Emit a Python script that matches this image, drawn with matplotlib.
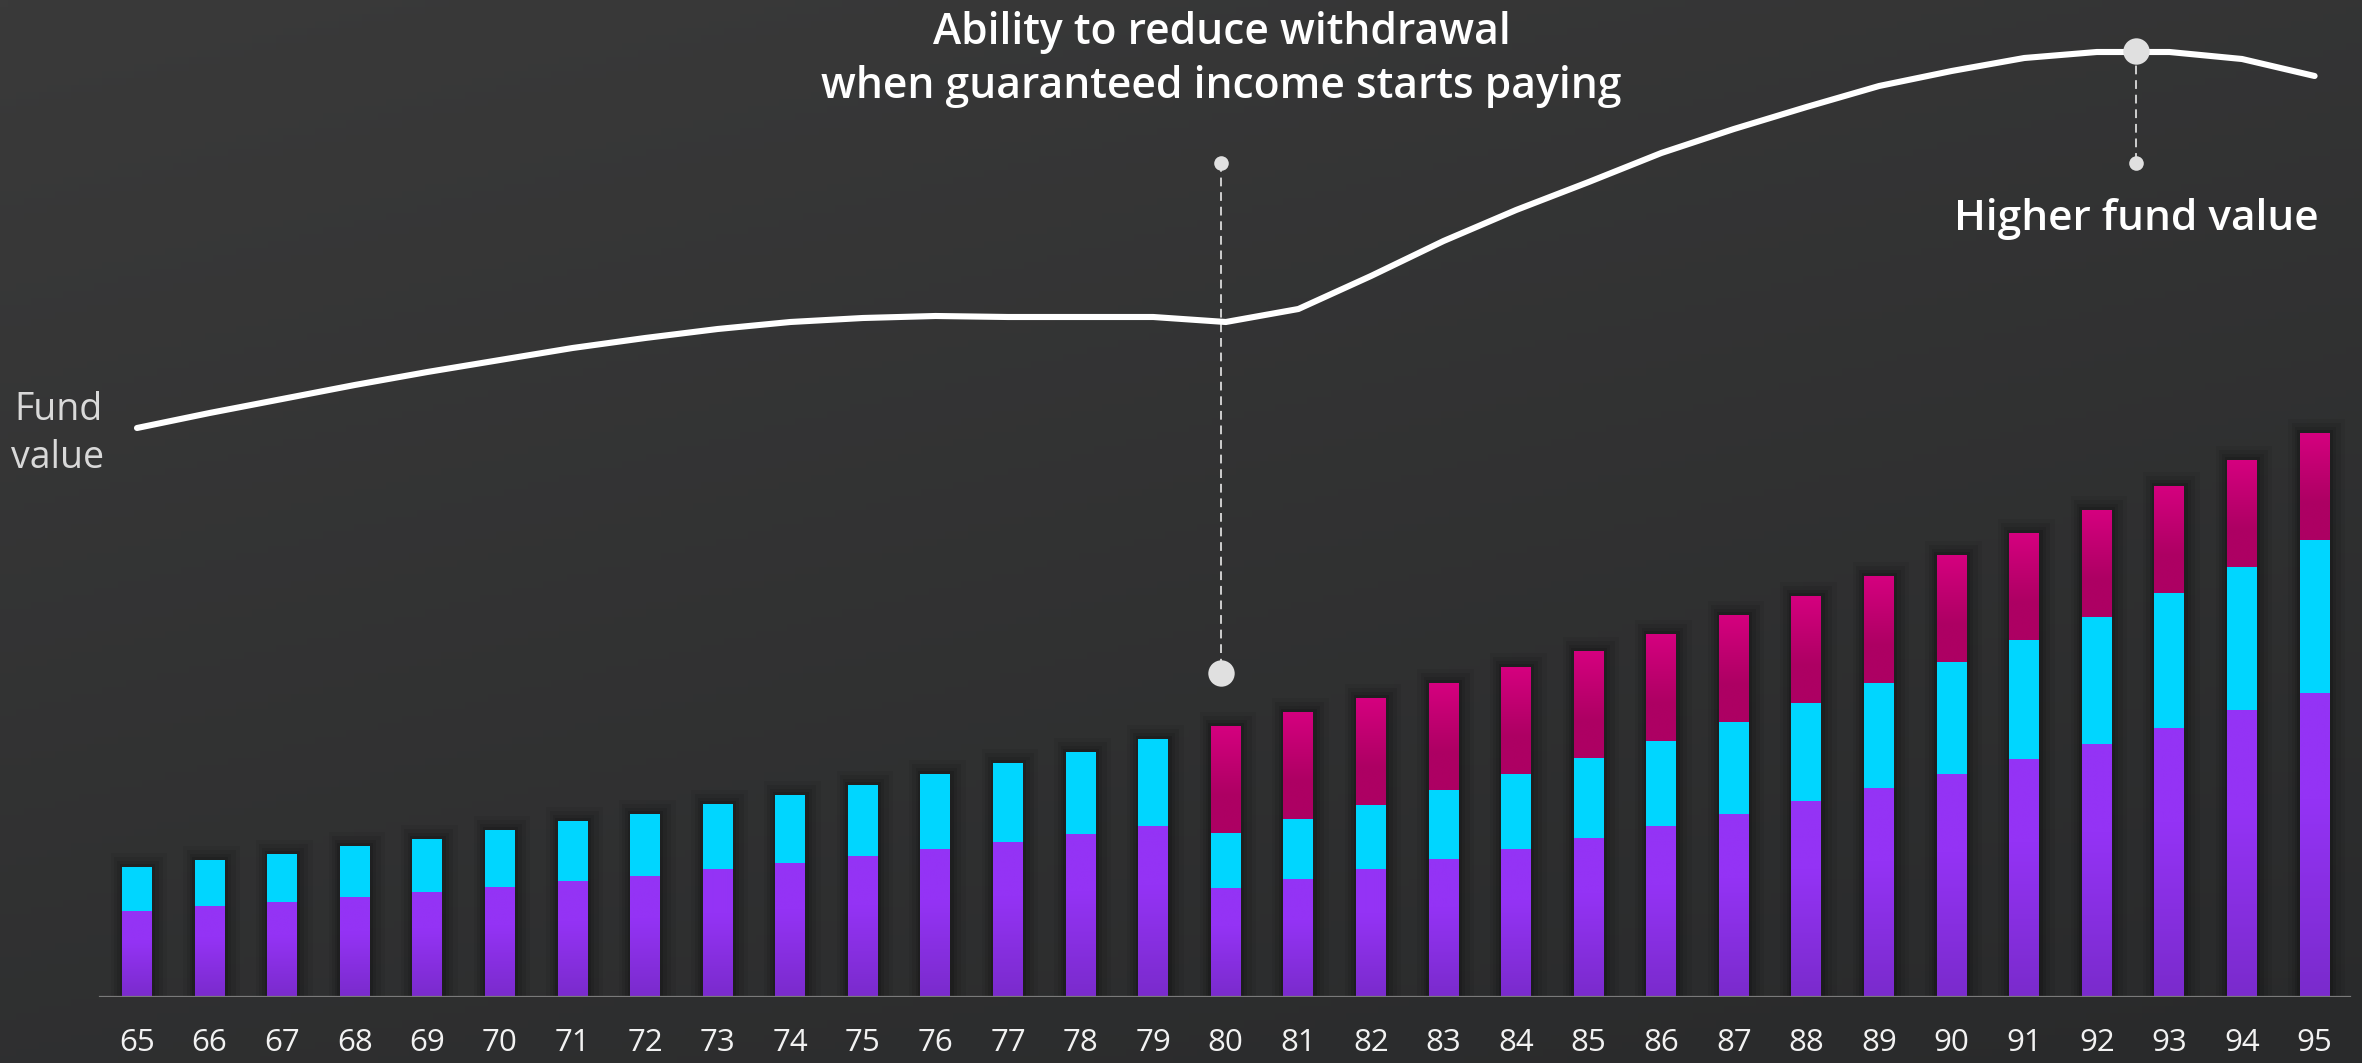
import numpy as np
import matplotlib.pyplot as plt
from matplotlib.colors import to_rgb
from matplotlib.patches import Rectangle

# Ages on the x axis
ages = [65, 66, 67, 68, 69, 70, 71, 72, 73, 74, 75, 76, 77, 78, 79,
        80, 81, 82, 83, 84, 85, 86, 87, 88, 89, 90, 91, 92, 93, 94, 95]

# Stacked bar segments (bottom -> top)
purple = [86, 91, 95, 100, 105, 110, 116, 121, 128, 134, 141, 148, 155, 163, 171,
          109, 118, 128, 138, 148, 159, 171, 183, 196, 209, 223, 238, 253, 269, 287, 304]
cyan = [44, 46, 48, 51, 53, 57, 60, 62, 65, 68, 71, 75, 79, 82, 87,
        55, 60, 64, 69, 75, 80, 85, 92, 98, 105, 112, 119, 127, 135, 143, 153]
magenta = [0, 0, 0, 0, 0, 0, 0, 0, 0, 0, 0, 0, 0, 0, 0,
           107, 107, 107, 107, 107, 107, 107, 107, 107, 107, 107, 107, 107, 107, 107, 107]

# Fund value line
fund = [569, 584, 598, 612, 625, 637, 649, 659, 668, 675, 679, 681, 680, 680, 680,
        675, 688, 721, 756, 787, 815, 844, 868, 890, 911, 926, 939, 945, 945, 938, 921]

# annotations
reduce_age, reduce_marker, reduce_dot = 79.94, 324, 834
peak_age, peak_value, peak_dot = 92.54, 946, 834

BG_TOP, BG_BOT = "#3a3a3a", "#292a2b"
PURPLE_TOP, PURPLE_BOT = "#9433f5", "#7a2bcc"
CYAN = "#00d6ff"
MAG_TOP, MAG_BOT = "#d5007f", "#ad0063"
MARK = "#e0e0e0"

W, H, DPI = 2362, 1063, 100
fig = plt.figure(figsize=(W / DPI, H / DPI), dpi=DPI)

# background gradient
bg = fig.add_axes([0, 0, 1, 1], zorder=-10)
gx, gy = np.meshgrid(np.linspace(0, 1, 300), np.linspace(0, 1, 150))
t = np.clip(0.35 * gx + 0.65 * gy, 0, 1)[..., None]
img = np.array(to_rgb(BG_TOP)) * (1 - t) + np.array(to_rgb(BG_BOT)) * t
bg.imshow(img, aspect="auto", extent=(0, 1, 0, 1), origin="upper")
bg.set_axis_off()

base_px = 997
ax = fig.add_axes([0, (H - base_px) / H, 1, base_px / H])
ax.set_facecolor("none")
px_per_age = (2314.6 - 137) / 30
xlo = 65 - 137 / px_per_age
xhi = 95 + (W - 2314.6) / px_per_age
bar_w = 30 / px_per_age


def gradient(top, bot, hold, top_hold=True):
    # column image, row 0 = bottom
    s = np.linspace(0, 1, 256)
    if top_hold:
        f = np.clip(s / (1 - hold), 0, 1)
    else:
        f = np.clip((s - hold) / (1 - hold), 0, 1)
    f = f[:, None, None]
    return np.array(to_rgb(bot)) * (1 - f) + np.array(to_rgb(top)) * f


def fill(patches, top, bot, hold, top_hold):
    g = gradient(top, bot, hold, top_hold)
    for p in patches:
        h = p.get_height()
        if h <= 0:
            continue
        x, y, w = p.get_x(), p.get_y(), p.get_width()
        im = ax.imshow(g, extent=(x, x + w, y, y + h), origin="lower",
                       aspect="auto", zorder=4, interpolation="bilinear")
        im.set_clip_path(p)


bottoms2 = [a + b for a, b in zip(purple, cyan)]
totals = [a + b for a, b in zip(bottoms2, magenta)]

# soft shadow around bars
for pad, al in [(14, 0.05), (10, 0.07), (6, 0.09), (3, 0.12)]:
    for a, tot in zip(ages, totals):
        ax.add_patch(Rectangle((a - bar_w / 2 - pad / px_per_age * 0.8, 0),
                               bar_w + pad / px_per_age * 1.9, tot + pad,
                               facecolor="black", alpha=al, lw=0, zorder=2))

b1 = ax.bar(ages, purple, width=bar_w, color=PURPLE_TOP, zorder=3, lw=0)
b2 = ax.bar(ages, cyan, bottom=purple, width=bar_w, color=CYAN, zorder=3, lw=0)
b3 = ax.bar(ages, magenta, bottom=bottoms2, width=bar_w, color=MAG_TOP, zorder=3, lw=0)
fill(b1, PURPLE_TOP, PURPLE_BOT, 0.35, True)
fill(b3, MAG_TOP, MAG_BOT, 0.35, False)

# fund value line
ax.plot(ages, fund, color="white", lw=4.4, solid_capstyle="round",
        solid_joinstyle="round", zorder=6)

# baseline
ax.axhline(0, xmin=100 / W, xmax=2350 / W, color="#7a7a7a", lw=1.6, zorder=5)

# annotation: reduce withdrawal
ax.plot([reduce_age, reduce_age], [reduce_dot, reduce_marker], color="#cfcfcf",
        lw=1.4, ls=(0, (4.5, 3)), zorder=5)
ax.plot(reduce_age, reduce_marker, "o", ms=19, color=MARK, mec="none", zorder=7)
ax.plot(reduce_age, reduce_dot, "o", ms=10.5, color=MARK, mec="none", zorder=7)

# annotation: peak
ax.plot([peak_age, peak_age], [peak_value, peak_dot], color="#cfcfcf",
        lw=1.4, ls=(0, (4.5, 3)), zorder=5)
ax.plot(peak_age, peak_value, "o", ms=19, color=MARK, mec="none", zorder=7)
ax.plot(peak_age, peak_dot, "o", ms=10.5, color=MARK, mec="none", zorder=7)

font = "Open Sans"
ax.text(reduce_age, 965, "Ability to reduce withdrawal", ha="center", va="center",
        color="white", fontsize=30.7, fontweight="semibold", family=font)
ax.text(reduce_age, 910, "when guaranteed income starts paying", ha="center",
        va="center", color="white", fontsize=30.7, fontweight="semibold", family=font)
ax.text(peak_age, 778, "Higher fund value", ha="center", va="center",
        color="white", fontsize=30.5, fontweight="semibold", family=font)
ax.text(xlo + 58 / px_per_age, 563, "Fund\nvalue", ha="center", va="center",
        color="#d9d9d9", fontsize=27, family=font, linespacing=1.33)

ax.set_xlim(xlo, xhi)
ax.set_ylim(0, base_px)
ax.set_xticks(ages)
ax.set_xticklabels([str(a) for a in ages], family=font, fontsize=22.5, color="#f2f2f2")
ax.tick_params(axis="x", length=0, pad=22)
ax.set_yticks([])
for s in ax.spines.values():
    s.set_visible(False)

fig.savefig("out.png", dpi=DPI)
